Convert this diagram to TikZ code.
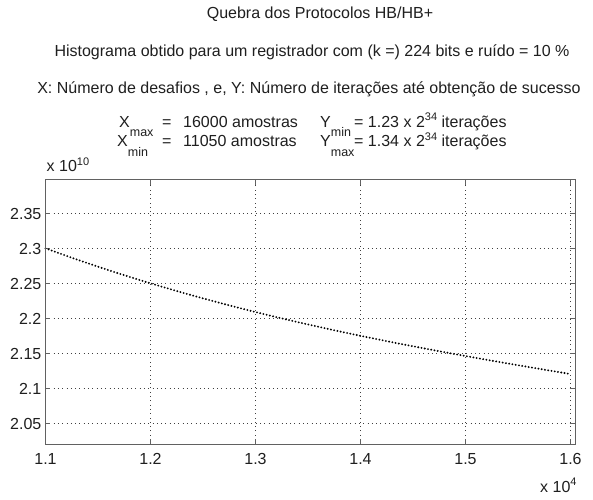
\documentclass[tikz,border=0pt]{standalone}
\usepackage{fontspec}
\setmainfont{Liberation Sans}
\newcommand\sbsc[1]{\raisebox{-9.5pt}{\fontsize{12.5}{13}\selectfont #1}}
\newcommand\spsc[1]{\raisebox{6.3pt}{\fontsize{11}{12}\selectfont #1}}
\begin{document}
\begin{tikzpicture}[x=1pt,y=-1pt,
  txt/.style={inner sep=0pt, font=\fontsize{16}{19}\selectfont, text=black!88},
  gridl/.style={black!75, line width=0.5pt, dash pattern=on 0.7pt off 3.6pt},
  axisl/.style={black!62, line width=0.9pt},
  tickl/.style={black!62, line width=0.7pt},
  curvel/.style={black, line width=2.1pt, line cap=round, dash pattern=on 0pt off 3.3pt}]
\useasboundingbox[fill=white] (0,0) rectangle (593,499);
% plot frame corners
\coordinate (bl) at (45,444);
\coordinate (tr) at (575,179.5);
% grid
\foreach \i/\xx in {2/150.5,3/255.5,4/360.5,5/465.5,6/570.5}{
  \coordinate (gxb\i) at (\xx,444);
  \coordinate (gxt\i) at (\xx,179.5);
  \draw[gridl] (gxb\i) -- (gxt\i);
  \draw[tickl] (gxb\i) -- ++(0,-5);
  \draw[tickl] (gxt\i) -- ++(0,5);
}
\foreach \i/\yy in {1/423.3,2/388.3,3/353.3,4/318.3,5/283.3,6/248.3,7/213.3}{
  \coordinate (gyl\i) at (45,\yy);
  \coordinate (gyr\i) at (575,\yy);
  \draw[gridl] (gyl\i) -- (gyr\i);
  \draw[tickl] (gyl\i) -- ++(5,0);
  \draw[tickl] (gyr\i) -- ++(-5,0);
}
% curve
\draw[curvel] plot[domain=0:0.5, samples=120] ({45.5+1050*\x},{248.3+386*\x-382.5*\x*\x+226.7*\x*\x*\x});
% frame
\draw[axisl] (bl) rectangle (tr);
% y tick labels
\foreach \i/\yy/\lab in {1/423.3/2.05,2/388.3/2.1,3/353.3/2.15,4/318.3/2.2,5/283.3/2.25,6/248.3/2.3,7/213.3/2.35}{
  \node[txt, anchor=base east] (yl\i) at (41.5,\yy+5.7) {\lab};
}
% x tick labels
\foreach \i/\xx/\lab in {1/45.5/1.1,2/150.5/1.2,3/255.5/1.3,4/360.5/1.4,5/465.5/1.5,6/570.5/1.6}{
  \node[txt, anchor=base] (xl\i) at (\xx,464) {\lab};
}
% exponent labels
\node[txt, anchor=base west] (yexp) at (46.5,171.5) {x 10\spsc{10}};
\node[txt, anchor=base west] (xexp) at (540,492) {x 10\spsc{4}};
% titles
\node[txt, anchor=base] (t1) at (320,18.5) {Quebra dos Protocolos HB/HB+};
\node[txt, anchor=base] (t2) at (312,56.5) {Histograma obtido para um registrador com (k =) 224 bits e ruído = 10 \%};
\node[txt, anchor=base] (t3) at (309,93) {X: Número de desafios , e, Y: Número de iterações até obtenção de sucesso};
% line 4
\node[txt, anchor=base west] (a1) at (119,127) {X\sbsc{max}};
\node[txt, anchor=base west] (a2) at (162,127) {=};
\node[txt, anchor=base west] (a3) at (183,127) {16000 amostras};
\node[txt, anchor=base west] (a4) at (320,127) {Y\sbsc{min}};
\node[txt, anchor=base west] (a5) at (354,127) {= 1.23 x 2\spsc{34} iterações};
% line 5
\node[txt, anchor=base west] (b1) at (117,146.5) {X\sbsc{min}};
\node[txt, anchor=base west] (b2) at (162,146.5) {=};
\node[txt, anchor=base west] (b3) at (183,146.5) {11050 amostras};
\node[txt, anchor=base west] (b4) at (320,146.5) {Y\sbsc{max}};
\node[txt, anchor=base west] (b5) at (354,146.5) {= 1.34 x 2\spsc{34} iterações};
\end{tikzpicture}
\end{document}
